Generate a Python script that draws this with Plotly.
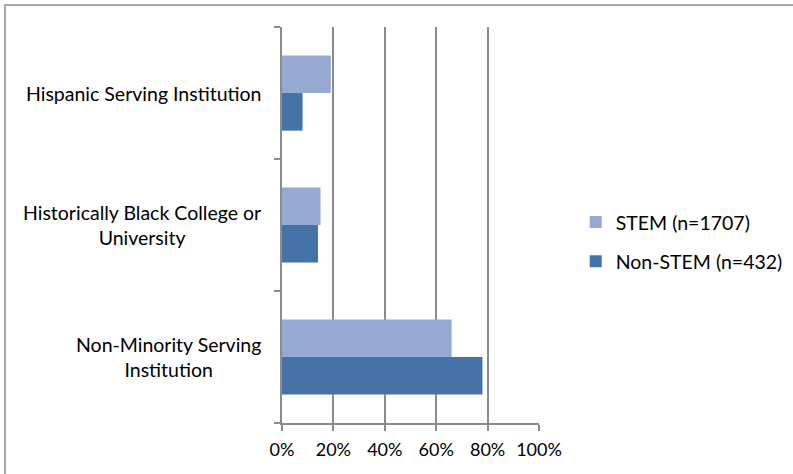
import plotly.graph_objects as go

categories = ["Non-Minority Serving Institution", "Historically Black College or University", "Hispanic Serving Institution"]
category_labels = ["Non-Minority Serving<br>Institution", "Historically Black College or<br>University", "Hispanic Serving Institution"]
stem_values = [66, 15, 19]
nonstem_values = [78, 14, 8]
series_names = ["STEM (n=1707)", "Non-STEM (n=432)"]
x_ticks = [0, 20, 40, 60, 80, 100]
x_tick_labels = ["0%", "20%", "40%", "60%", "80%", "100%"]

FONT = "Lato"
LBL = 19.5
fig = go.Figure()
fig.add_trace(go.Bar(y=categories, x=nonstem_values, orientation="h", name=series_names[1],
                     marker=dict(color="#4573A8", line=dict(width=0)), legendgroup="b", legendrank=2))
fig.add_trace(go.Bar(y=categories, x=stem_values, orientation="h", name=series_names[0],
                     marker=dict(color="#95A9D2", line=dict(width=0)), legendgroup="a", legendrank=1))

for cat, lab in zip(categories, category_labels):
    fig.add_annotation(x=0, xref="paper", y=cat, yref="y", text=lab, showarrow=False,
                       xanchor="right", align="center", xshift=-19,
                       font=dict(family=FONT, size=LBL, color="#000000"))

fig.add_shape(type="rect", xref="paper", yref="paper", x0=-1.078, x1=2.05, y0=-0.2, y1=1.0556,
              line=dict(color="#8C8C8C", width=1.5), fillcolor="rgba(0,0,0,0)", layer="below")

fig.update_layout(
    width=793, height=474,
    margin=dict(l=282, r=254, t=27, b=51),
    paper_bgcolor="white", plot_bgcolor="white",
    barmode="group", bargap=0.43, bargroupgap=0,
    font=dict(family=FONT, size=LBL, color="#000000"),
    legend=dict(xref="container", yref="container", x=0.726, xanchor="left", y=0.49, yanchor="middle",
                traceorder="grouped", tracegroupgap=11, font=dict(family=FONT, size=LBL), itemwidth=30),
    xaxis=dict(range=[0, 100], tickvals=x_ticks, ticktext=x_tick_labels, showgrid=True,
               gridcolor="#8C8C8C", gridwidth=1.5, zeroline=False, showline=True,
               linecolor="#8C8C8C", linewidth=1.5, ticks="outside", ticklen=6, ticklabelstandoff=4,
               tickcolor="#8C8C8C", tickwidth=1.5, tickfont=dict(family=FONT, size=18)),
    yaxis=dict(type="category", categoryorder="array", categoryarray=categories,
               showticklabels=False, showline=True, linecolor="#8C8C8C", linewidth=1.5,
               ticks="outside", tickson="boundaries", ticklen=6, tickcolor="#8C8C8C",
               tickwidth=1.5, showgrid=False, zeroline=False),
)
fig.write_html("out.html", config={"displayModeBar": False},
               post_script="document.body.style.margin='0';document.body.style.overflow='hidden';")
